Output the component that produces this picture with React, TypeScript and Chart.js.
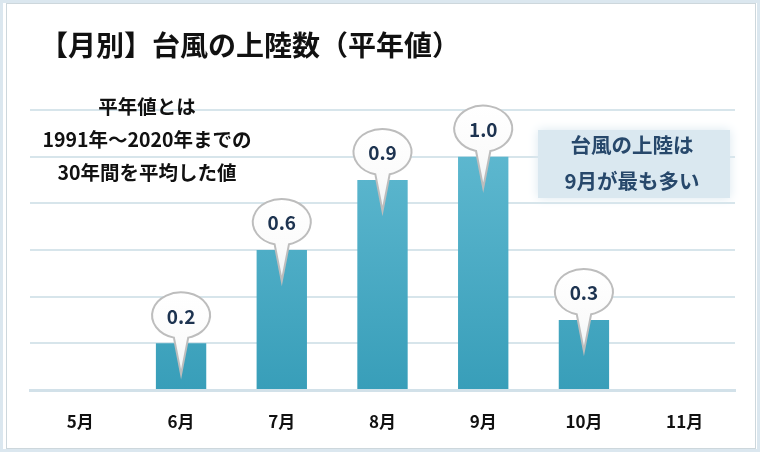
import React, { useEffect, useRef } from "react";
import { Chart, registerables } from "chart.js";

Chart.register(...registerables);

const categories = ["5月", "6月", "7月", "8月", "9月", "10月", "11月"];
const values = [0, 0.2, 0.6, 0.9, 1.0, 0.3, 0];
const valueLabels = ["", "0.2", "0.6", "0.9", "1.0", "0.3", ""];
const yMax = 1.2;
const yStep = 0.2;
const titleText = "【月別】台風の上陸数（平年値）";
const noteLines = ["平年値とは", "1991年～2020年までの", "30年間を平均した値"];
const calloutLines = ["台風の上陸は", "9月が最も多い"];

const FONT = '"Noto Sans CJK JP", "Noto Sans", sans-serif';

const framePlugin = {
  id: "frame",
  beforeDraw(chart: any) {
    const c = chart.ctx;
    c.save();
    c.fillStyle = "#ffffff";
    c.fillRect(0, 0, chart.width, chart.height);
    c.strokeStyle = "#dbe7ef";
    c.lineWidth = 3;
    c.strokeRect(1.5, 1.5, chart.width - 3, chart.height - 3);
    c.strokeStyle = "#cdd7dc";
    c.lineWidth = 1;
    c.strokeRect(6.5, 3.5, chart.width - 11, chart.height - 7);
    c.restore();
  },
  beforeDatasetsDraw(chart: any) {
    const c = chart.ctx;
    c.save();
    c.fillStyle = "#dae8f0";
    c.shadowColor = "#dae8f0";
    c.shadowBlur = 10;
    c.fillRect(538, 130, 192, 68);
    c.restore();
  },
  afterDraw(chart: any) {
    const c = chart.ctx;
    c.save();
    c.textBaseline = "middle";
    c.fillStyle = "#111111";
    c.textAlign = "left";
    c.font = `bold 28px ${FONT}`;
    c.fillText(titleText, 40, 45);

    c.textAlign = "center";
    c.font = `bold 19.5px ${FONT}`;
    c.fillStyle = "#111111";
    noteLines.forEach((t, i) => c.fillText(t, 147, 107 + i * 33));

    c.fillStyle = "#27486b";
    c.font = `bold 20.5px ${FONT}`;
    calloutLines.forEach((t, i) => c.fillText(t, 632, 145 + i * 36));
    c.restore();
  },
};

const bubblePlugin = {
  id: "bubbles",
  afterDatasetsDraw(chart: any) {
    const c = chart.ctx;
    const meta = chart.getDatasetMeta(0);
    meta.data.forEach((el: any, i: number) => {
      const label = valueLabels[i];
      if (!label) return;
      const cx = el.x;
      const top = el.y;
      const cy = top - 28;
      const rx = 29;
      const ry = 23;
      const tipY = top + 31;
      const d = 0.25;
      c.save();
      c.beginPath();
      c.ellipse(cx, cy, rx, ry, 0, Math.PI / 2 + d, Math.PI / 2 - d + Math.PI * 2);
      c.lineTo(cx, tipY);
      c.closePath();
      const g = c.createLinearGradient(0, cy - ry, 0, tipY);
      g.addColorStop(0, "#ffffff");
      g.addColorStop(0.6, "#fbfbfb");
      g.addColorStop(1, "#eef3f5");
      c.fillStyle = g;
      c.fill();
      c.strokeStyle = "#bdbdbd";
      c.lineWidth = 2;
      c.lineJoin = "miter";
      c.stroke();
      c.fillStyle = "#1d3350";
      c.font = `bold 19px ${FONT}`;
      c.textAlign = "center";
      c.textBaseline = "middle";
      c.fillText(label, cx, cy + 1);
      c.restore();
    });
  },
};

export default function App() {
  const ref = useRef<HTMLCanvasElement>(null);
  useEffect(() => {
    const canvas = ref.current!;
    const chart = new Chart(canvas, {
      type: "bar",
      data: {
        labels: categories,
        datasets: [
          {
            data: values,
            backgroundColor: (ctx: any) => {
              const { chart } = ctx;
              const area = chart.chartArea;
              if (!area) return "#4aaac4";
              const g = chart.ctx.createLinearGradient(0, area.top, 0, area.bottom);
              g.addColorStop(0, "#64bcd3");
              g.addColorStop(1, "#389eb9");
              return g;
            },
            borderWidth: 0,
            barPercentage: 0.5,
            categoryPercentage: 1,
          },
        ],
      },
      options: {
        responsive: false,
        animation: false,
        devicePixelRatio: 1,
        layout: { padding: { left: 30, right: 25, top: 110, bottom: 0 } },
        plugins: { legend: { display: false }, tooltip: { enabled: false }, title: { display: false } },
        scales: {
          x: {
            grid: { display: false, drawTicks: false },
            border: { display: true, color: "#d2e1e9", width: 3 },
            ticks: {
              color: "#111111",
              font: { family: FONT, size: 17, weight: "bold" },
              padding: 21,
              maxRotation: 0,
            },
            afterFit: (s: any) => {
              s.height = 62;
            },
          },
          y: {
            min: 0,
            max: yMax,
            ticks: { stepSize: yStep, display: false },
            grid: { color: "#d7e5eb", lineWidth: 2, drawTicks: false },
            border: { display: false },
            afterFit: (s: any) => {
              s.width = 0;
            },
          },
        },
      },
      plugins: [framePlugin, bubblePlugin],
    } as any);
    return () => chart.destroy();
  }, []);
  return (
    <div style={{ position: "fixed", left: 0, top: 0, width: 760, height: 452 }}>
      <canvas ref={ref} width={760} height={452} style={{ width: 760, height: 452, display: "block" }} />
    </div>
  );
}
